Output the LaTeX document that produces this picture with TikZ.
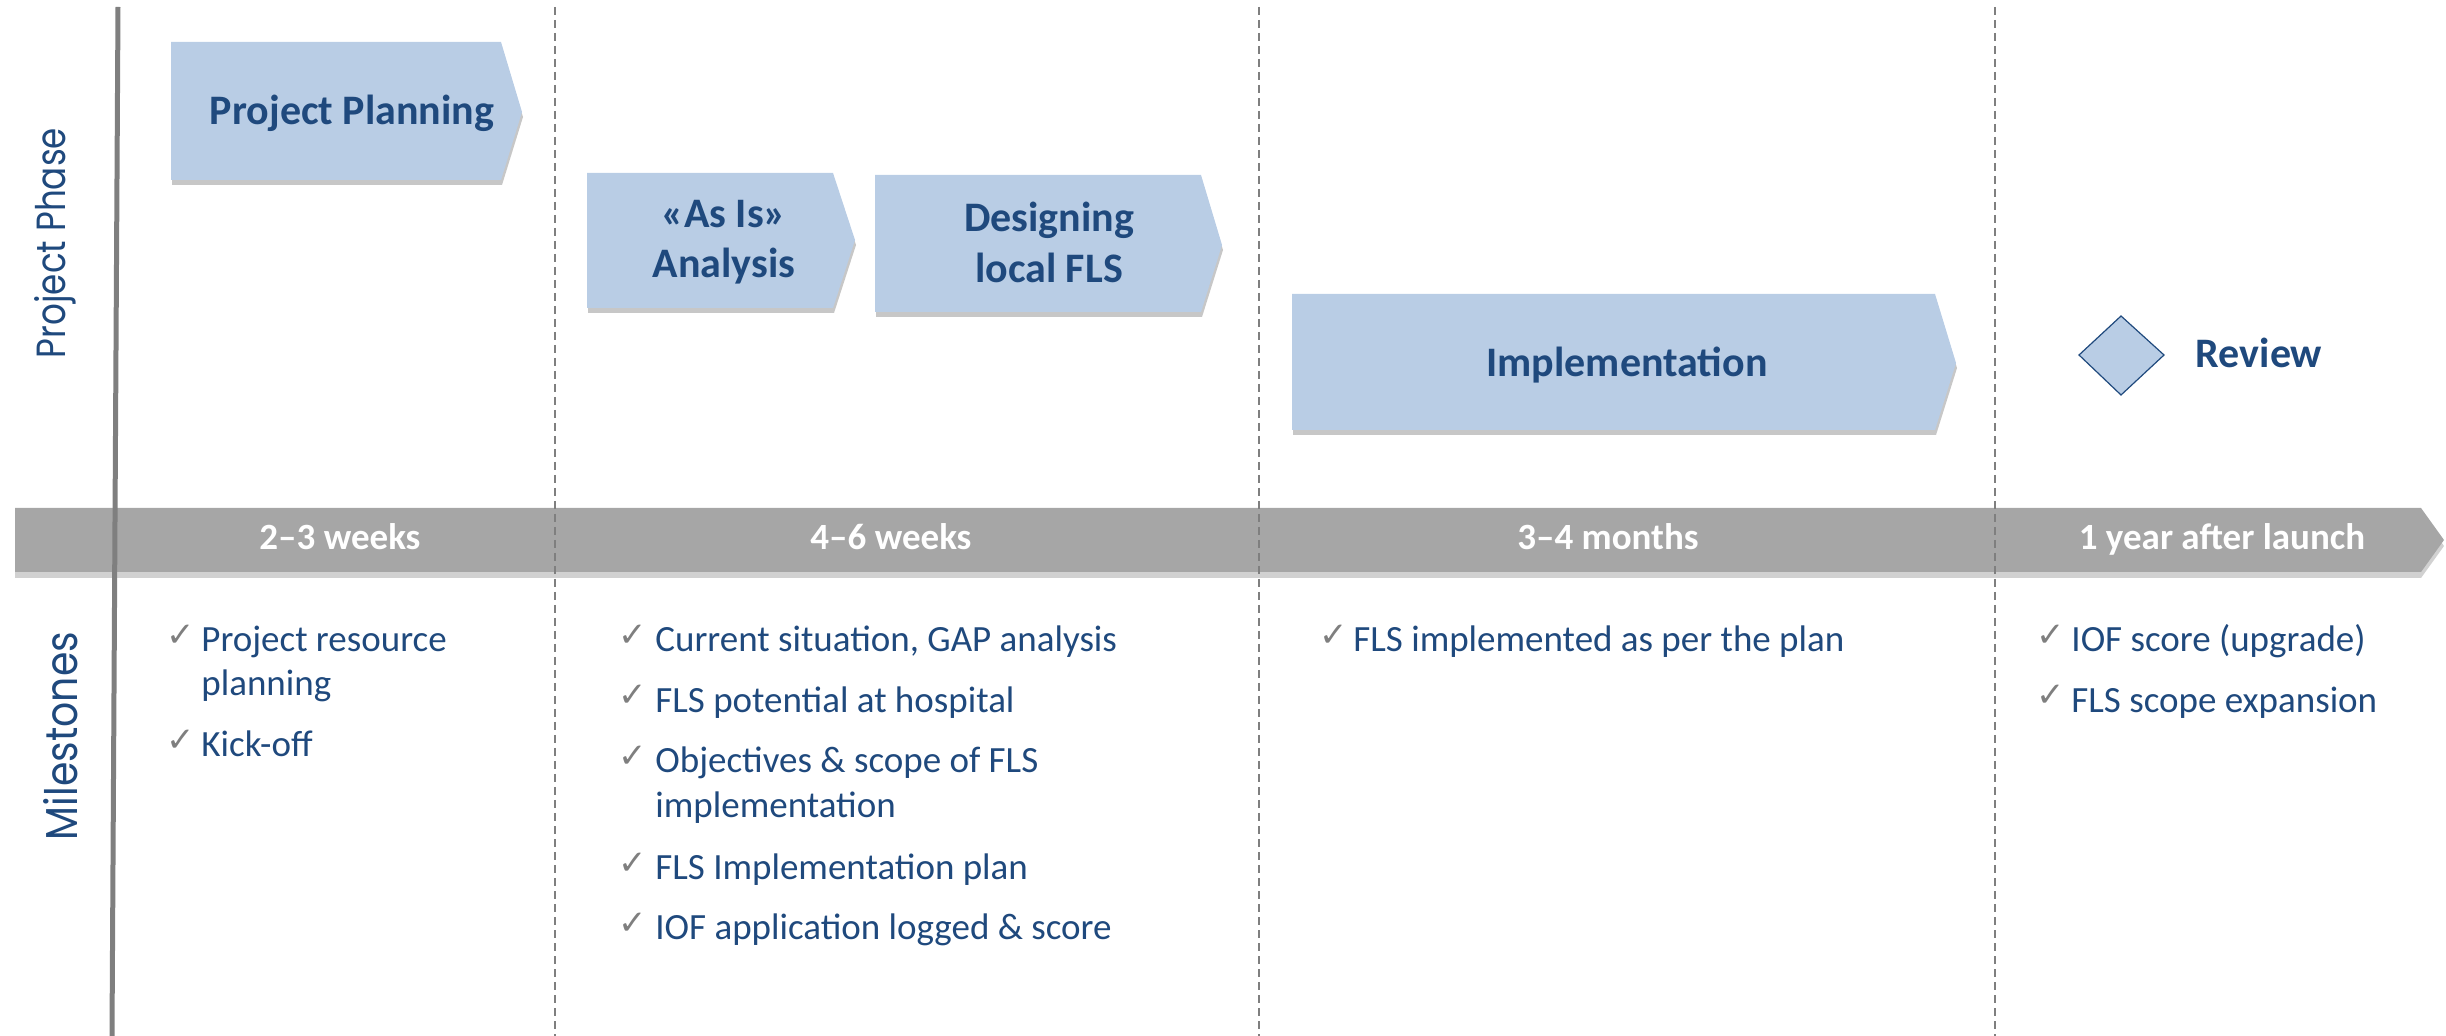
\documentclass[tikz,border=0pt]{standalone}
\usepackage{fontspec}
\setmainfont{Carlito}
\newfontfamily\geofont{Poppins}
\newfontfamily\symfont{DejaVu Sans}
\usetikzlibrary{shadows}
\definecolor{navy}{HTML}{1F497D}
\definecolor{boxfill}{HTML}{B9CDE5}
\definecolor{bargray}{HTML}{A6A6A6}
\definecolor{linegray}{HTML}{7F7F7F}
\newcommand\fsbox{\fontsize{21pt}{25pt}\selectfont\bfseries}
\newcommand\fsms{\fontsize{18.5pt}{22.5pt}\selectfont}
\newcommand\fsbar{\fontsize{18.5pt}{22pt}\selectfont\bfseries}
\tikzset{
  phasebox/.style={fill=boxfill, drop shadow={shadow xshift=0.5pt, shadow yshift=-2.5pt, fill=black, opacity=0.22}},
  bararrow/.style={fill=bargray, drop shadow={shadow xshift=0pt, shadow yshift=-3pt, fill=black, opacity=0.18}},
  boxtext/.style={font=\fsbox, text=navy, inner sep=0pt, anchor=base},
  bartext/.style={font=\fsbar, text=white, inner sep=0pt, anchor=base},
  mstext/.style={font=\fsms, text=navy, inner sep=0pt, anchor=base west},
  chk/.style={font=\symfont\fontsize{17pt}{17pt}\selectfont, text=linegray, inner sep=0pt, anchor=base west},
  mainline/.style={draw=linegray, line width=2.5pt},
  sepline/.style={draw=linegray, line width=0.9pt, dash pattern=on 4pt off 2.5pt},
  sidelabel/.style={text=navy, inner sep=0pt, rotate=90},
}
\begin{document}
\begin{tikzpicture}[x=0.5pt,y=-0.5pt]
\useasboundingbox (0,0) rectangle (2446,1036);

% phase boxes
\fill[phasebox] (171,42) -- (501,42) -- (522,112) -- (501,180) -- (171,180) -- cycle;
\fill[phasebox] (587,173) -- (833,173) -- (855,240) -- (833,308) -- (587,308) -- cycle;
\fill[phasebox] (875,175) -- (1201,175) -- (1222,245) -- (1201,312) -- (875,312) -- cycle;
\fill[phasebox] (1292,294) -- (1935,294) -- (1956,363) -- (1935,430) -- (1292,430) -- cycle;

\node[boxtext] (pp) at (352,125) {Project Planning};
\node[boxtext] (asis1) at (724,228) {«As Is»};
\node[boxtext] (asis2) at (724,278) {Analysis};
\node[boxtext] (des1) at (1049,232) {Designing};
\node[boxtext] (des2) at (1049,283) {local FLS};
\node[boxtext] (impl) at (1627,377) {Implementation};

% review diamond
\filldraw[fill=boxfill, draw=navy, line width=0.6pt] (2079,355) -- (2121,316) -- (2164,355) -- (2121,395) -- cycle;
\node[boxtext] (rev) at (2259,368) {Review};

% timeline bar
\fill[bararrow] (15,508) -- (2421,508) -- (2444,540) -- (2421,572) -- (15,572) -- cycle;

% lines
\draw[mainline] (118,7) -- (112,1036);
\draw[sepline] (555,7) -- (555,1036);
\draw[sepline] (1259,7) -- (1259,1036);
\draw[sepline] (1995,7) -- (1995,1036);

% bar texts
\node[bartext] (d1) at (340,550) {2–3 weeks};
\node[bartext] (d2) at (891,550) {4–6 weeks};
\node[bartext] (d3) at (1608,550) {3–4 months};
\node[bartext] (d4) at (2222,550) {1 year after launch};

% side labels
\node[sidelabel] (lblphase) at (55,243) {\resizebox{115pt}{15.5pt}{\geofont Project Phase}};
\node[sidelabel] (lblmile) at (61,736) {\resizebox{104pt}{17pt}{\geofont Milestones}};

% milestones column 1
\node[chk] (c1a) at (166,647) {✓};
\node[mstext] (m1a) at (201,652) {Project resource};
\node[mstext] (m1b) at (201,696) {planning};
\node[chk] (c1b) at (166,751) {✓};
\node[mstext] (m1c) at (201,756) {Kick-off};

% column 2
\node[chk] (c2a) at (618,647) {✓};
\node[mstext] (m2a) at (655,652) {Current situation, GAP analysis};
\node[chk] (c2b) at (618,707) {✓};
\node[mstext] (m2b) at (655,712) {FLS potential at hospital};
\node[chk] (c2c) at (618,767) {✓};
\node[mstext] (m2c) at (655,772) {Objectives \& scope of FLS};
\node[mstext] (m2d) at (655,817) {implementation};
\node[chk] (c2e) at (618,874) {✓};
\node[mstext] (m2e) at (655,879) {FLS Implementation plan};
\node[chk] (c2f) at (618,934) {✓};
\node[mstext] (m2f) at (655,939) {IOF application logged \& score};

% column 3
\node[chk] (c3a) at (1319,647) {✓};
\node[mstext] (m3a) at (1353,652) {FLS implemented as per the plan};

% column 4
\node[chk] (c4a) at (2036,647) {✓};
\node[mstext] (m4a) at (2071,652) {IOF score (upgrade)};
\node[chk] (c4b) at (2036,707) {✓};
\node[mstext] (m4b) at (2071,712) {FLS scope expansion};
\end{tikzpicture}
\end{document}
